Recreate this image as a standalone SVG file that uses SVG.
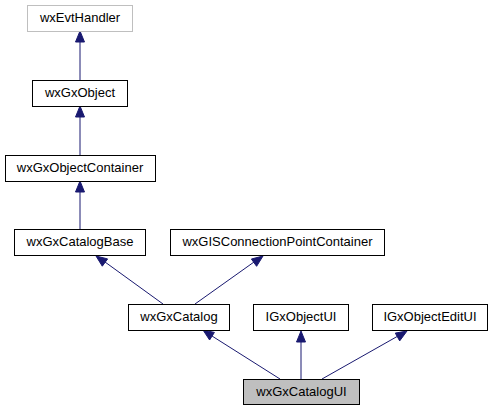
<svg xmlns="http://www.w3.org/2000/svg" width="496" height="411" viewBox="0 0 496 411">
<style>
  .box { fill: #ffffff; stroke: #000000; stroke-width: 1; }
  .gray { fill: #ffffff; stroke: #bfbfbf; stroke-width: 1; }
  .cur { fill: #bfbfbf; stroke: #000000; stroke-width: 1; }
  text { font-family: "Liberation Sans", Arial, sans-serif; font-size: 13px; text-anchor: middle; fill: #000000; }
  .edge { stroke: #191970; stroke-width: 1; fill: none; }
  .head { fill: #191970; stroke: #191970; stroke-width: 1; }
</style>
<rect width="496" height="411" fill="#ffffff"/>
<g id="edges">
  <line class="edge" x1="80" y1="80" x2="80" y2="41"/>
  <polygon class="head" points="80,31 75.5,42 84.5,42"/>
  <line class="edge" x1="80" y1="155" x2="80" y2="116"/>
  <polygon class="head" points="80,106 75.5,117 84.5,117"/>
  <line class="edge" x1="80" y1="229" x2="80" y2="191"/>
  <polygon class="head" points="80,181 75.5,192 84.5,192"/>
  <line class="edge" x1="163" y1="304" x2="105" y2="262"/>
  <polygon class="head" points="96,256 102.3,266.2 107.6,258.9"/>
  <line class="edge" x1="195" y1="304" x2="254" y2="262"/>
  <polygon class="head" points="263,256 251.4,259 256.6,266.3"/>
  <line class="edge" x1="280" y1="379" x2="212" y2="336"/>
  <polygon class="head" points="203,330 209.6,340 214.4,332.4"/>
  <line class="edge" x1="301" y1="379" x2="301" y2="341"/>
  <polygon class="head" points="301,331 296.5,342 305.5,342"/>
  <line class="edge" x1="322" y1="379" x2="398" y2="336"/>
  <polygon class="head" points="407,331 395.3,333.1 399.7,340.9"/>
</g>
<g id="wxEvtHandler">
  <rect class="gray" x="27.5" y="5.5" width="105" height="26"/>
  <text x="80" y="22">wxEvtHandler</text>
</g>
<g id="wxGxObject">
  <rect class="box" x="32.5" y="80.5" width="95" height="26"/>
  <text x="80" y="97">wxGxObject</text>
</g>
<g id="wxGxObjectContainer">
  <rect class="box" x="5.5" y="155.5" width="150" height="26"/>
  <text x="80" y="172">wxGxObjectContainer</text>
</g>
<g id="wxGxCatalogBase">
  <rect class="box" x="14.5" y="229.5" width="131" height="26"/>
  <text x="80" y="246">wxGxCatalogBase</text>
</g>
<g id="wxGISConnectionPointContainer">
  <rect class="box" x="170.5" y="229.5" width="214" height="26"/>
  <text x="277.5" y="246">wxGISConnectionPointContainer</text>
</g>
<g id="wxGxCatalog">
  <rect class="box" x="128.5" y="304.5" width="101" height="26"/>
  <text x="179" y="321">wxGxCatalog</text>
</g>
<g id="IGxObjectUI">
  <rect class="box" x="253.5" y="304.5" width="95" height="26"/>
  <text x="301" y="321">IGxObjectUI</text>
</g>
<g id="IGxObjectEditUI">
  <rect class="box" x="372.5" y="304.5" width="115" height="26"/>
  <text x="430" y="321">IGxObjectEditUI</text>
</g>
<g id="wxGxCatalogUI">
  <rect class="cur" x="243.5" y="379.5" width="116" height="25"/>
  <text x="301.5" y="396">wxGxCatalogUI</text>
</g>
</svg>
